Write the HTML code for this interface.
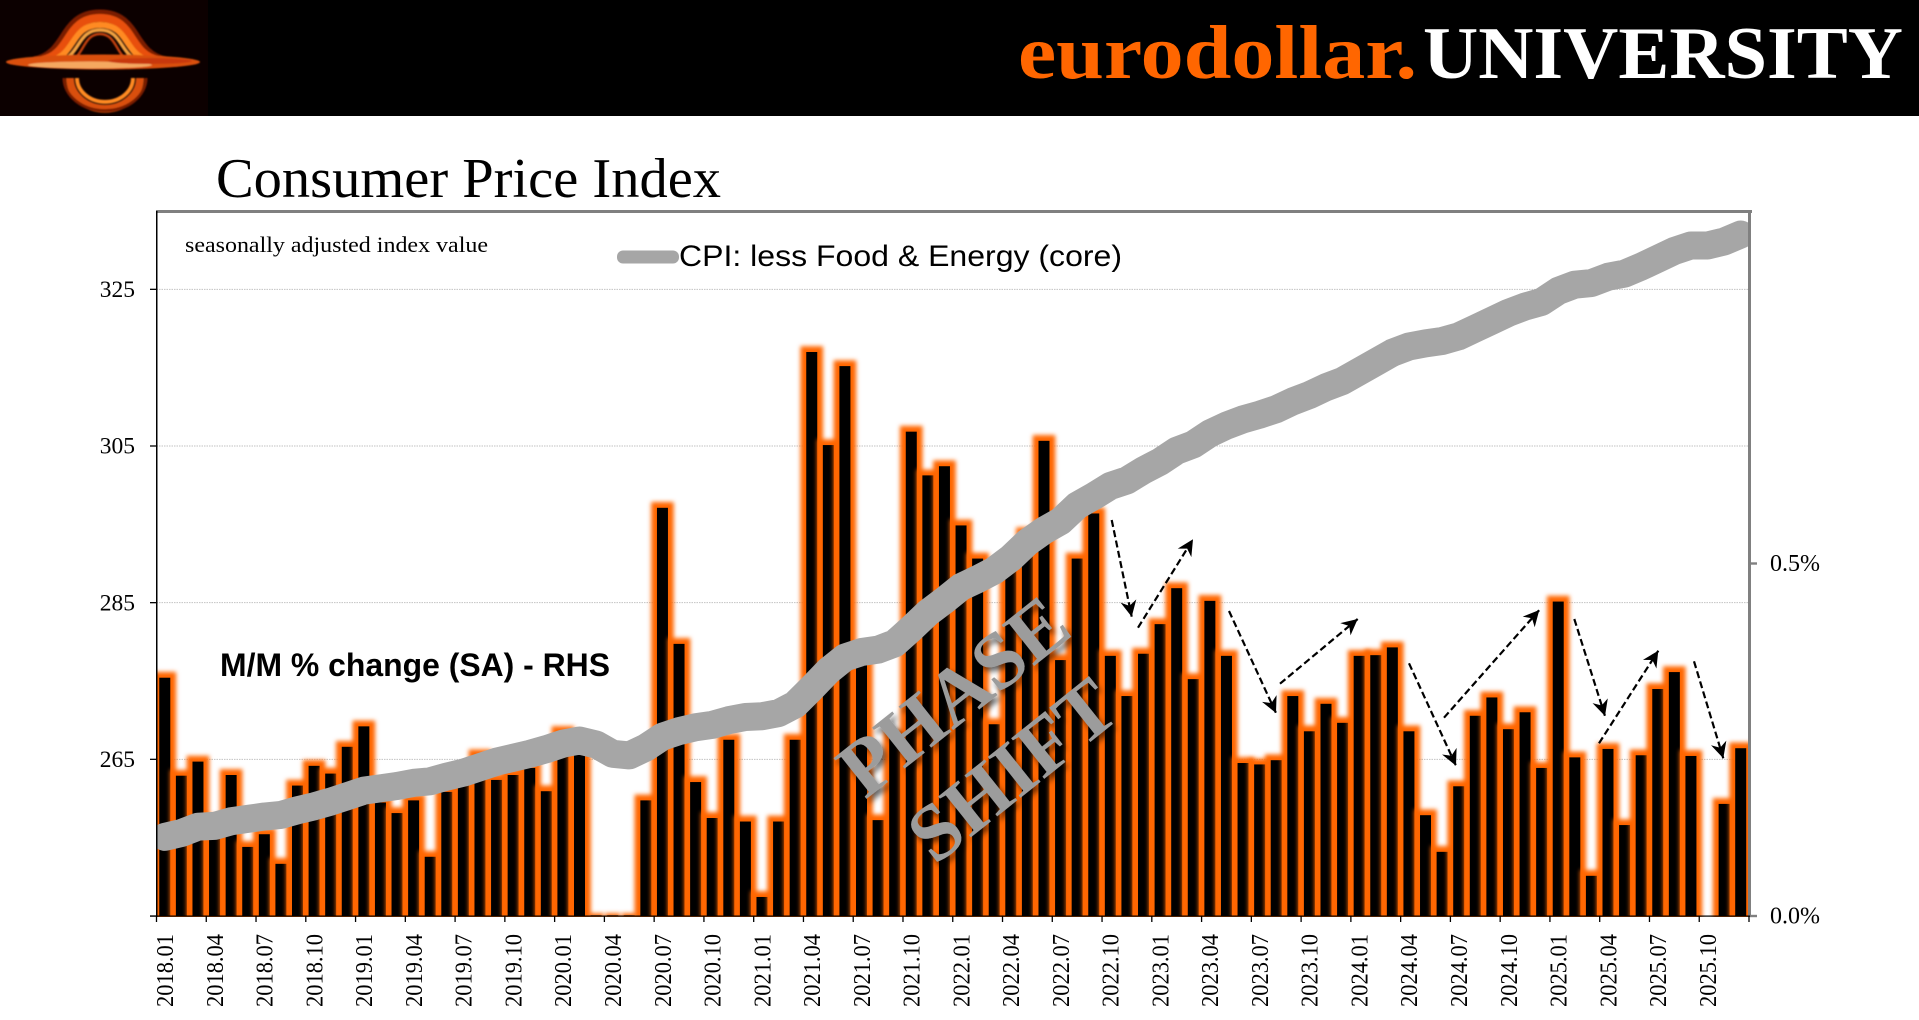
<!DOCTYPE html>
<html lang="en">
<head>
<meta charset="utf-8">
<title>Consumer Price Index</title>
<style>
html,body{margin:0;padding:0;background:#fff;width:1919px;height:1020px;overflow:hidden}
svg{display:block}
text{font-family:"Liberation Serif",serif}
.sans{font-family:"Liberation Sans",sans-serif}
</style>
</head>
<body>
<svg id="chart" xmlns="http://www.w3.org/2000/svg" width="1919" height="1020" viewBox="0 0 1919 1020">
  <defs>
    <filter id="glowBlur" filterUnits="userSpaceOnUse" x="130" y="190" width="1640" height="750">
      <feGaussianBlur stdDeviation="2"/>
    </filter>
    <filter id="logoBlur" x="-10%" y="-10%" width="120%" height="120%">
      <feGaussianBlur stdDeviation="0.9"/>
    </filter>
    <filter id="wordShadow" x="-10%" y="-20%" width="130%" height="150%">
      <feDropShadow dx="3" dy="4" stdDeviation="3" flood-color="#000" flood-opacity="0.6"/>
    </filter>
    <clipPath id="plotClip"><rect x="156.5" y="211" width="1592.5" height="706"/></clipPath>
    <marker id="stealth" markerUnits="userSpaceOnUse" markerWidth="20" markerHeight="20" viewBox="-1 -10 20 20" refX="16" refY="0" orient="auto">
      <path d="M0,-8 L16,0 L0,8 L5,0 Z" fill="#000"/>
    </marker>
  </defs>

  <rect x="0" y="0" width="1919" height="116" fill="#000"/>

  <g>
    <rect x="0" y="0" width="208" height="116" fill="#0c0000"/>
    <g filter="url(#logoBlur)" fill="none">
      <path d="M34 60 C68 54 60 13 100 13 C140 13 132 54 166 60" stroke="#7a1c04" stroke-width="7"/>
      <path d="M42 60 C72 54 65 18 100 18 C135 18 128 54 158 60" stroke="#e8500c" stroke-width="8"/>
      <path d="M52 60 C76 54 71 25 100 25 C129 25 124 54 148 60" stroke="#ff8a20" stroke-width="6"/>
      <path d="M62 60 C80 54 78 30 100 30 C122 30 120 54 138 60" stroke="#f0a040" stroke-width="3.5"/>
      <path d="M72 60 C84 54 84 34 100 34 C116 34 116 54 128 60" stroke="#c0400a" stroke-width="2.5"/>
      <ellipse cx="103" cy="62" rx="97" ry="7.5" fill="#d9500f" stroke="none"/>
      <ellipse cx="90" cy="65" rx="62" ry="3.5" fill="#f5a860" stroke="none"/>
      <ellipse cx="150" cy="61" rx="42" ry="3" fill="#c83810" stroke="none"/>
      <path d="M70 78 A33 29 0 0 0 140 78" stroke="#d9500f" stroke-width="8"/>
      <path d="M77 78 A27 23 0 0 0 133 78" stroke="#ff8a20" stroke-width="4"/>
      <path d="M64 78 A39 31 0 0 0 146 78" stroke="#7a1c04" stroke-width="3"/>
    </g>
  </g>

  <text x="1018" y="78" font-size="76" font-weight="bold" fill="#ff6600" textLength="399" lengthAdjust="spacingAndGlyphs">eurodollar.</text>
  <text x="1423" y="78" font-size="74" font-weight="bold" fill="#fff" textLength="480" lengthAdjust="spacingAndGlyphs">UNIVERSITY</text>

  <text x="216" y="197" font-size="56" fill="#000" textLength="505" lengthAdjust="spacingAndGlyphs">Consumer Price Index</text>

  <g id="grid"></g>
  <g id="bars" clip-path="url(#plotClip)"></g>
  <g clip-path="url(#plotClip)"><path id="cpiLine" fill="none" stroke="#a6a6a6" stroke-width="28" stroke-linejoin="round" stroke-linecap="round"/></g>

  <g>
    <rect x="156" y="210" width="1596" height="3" fill="#808080"/>
    <rect x="1748" y="210" width="3" height="707" fill="#808080"/>
    <rect x="156" y="211" width="1.5" height="706" fill="#000"/>
    <rect x="150" y="915.5" width="1600" height="1.2" fill="#000"/>
  </g>
  <g id="axes"></g>

  <text x="185" y="252" font-size="22" fill="#000" textLength="303" lengthAdjust="spacingAndGlyphs">seasonally adjusted index value</text>

  <g>
    <rect x="617" y="250.5" width="62" height="13" rx="6" fill="#a6a6a6"/>
    <text class="sans" x="679" y="266" font-size="30" fill="#000" textLength="443" lengthAdjust="spacingAndGlyphs">CPI: less Food &amp; Energy (core)</text>
  </g>

  <text class="sans" x="220" y="676" font-size="32" font-weight="bold" fill="#000" textLength="390" lengthAdjust="spacingAndGlyphs">M/M % change (SA) - RHS</text>

  <g filter="url(#wordShadow)">
    <text transform="translate(865 800) rotate(-38.4)" font-size="80" font-weight="bold" fill="#9c9c9c" textLength="268" lengthAdjust="spacingAndGlyphs">PHASE</text>
    <text transform="translate(935 866) rotate(-38.6)" font-size="80" font-weight="bold" fill="#9c9c9c" textLength="240" lengthAdjust="spacingAndGlyphs">SHIFT</text>
  </g>

  <g stroke="#000" stroke-width="2.2" stroke-dasharray="7 3.5" fill="none">
    <line x1="1111.7" y1="520" x2="1131.7" y2="616.7" marker-end="url(#stealth)"/>
    <line x1="1138" y1="627.7" x2="1193" y2="539.3" marker-end="url(#stealth)"/>
    <line x1="1229" y1="611" x2="1276" y2="713" marker-end="url(#stealth)"/>
    <line x1="1280" y1="683.7" x2="1357.7" y2="619" marker-end="url(#stealth)"/>
    <line x1="1409" y1="663.3" x2="1456" y2="765.7" marker-end="url(#stealth)"/>
    <line x1="1444" y1="717.7" x2="1539.3" y2="610" marker-end="url(#stealth)"/>
    <line x1="1574.3" y1="619" x2="1605" y2="716" marker-end="url(#stealth)"/>
    <line x1="1599" y1="743.3" x2="1658.3" y2="650.7" marker-end="url(#stealth)"/>
    <line x1="1694" y1="661.3" x2="1723.3" y2="758.3" marker-end="url(#stealth)"/>
  </g>
</svg>

<script>
const categories = [
  "2018.01","2018.02","2018.03","2018.04","2018.05","2018.06","2018.07","2018.08","2018.09","2018.10","2018.11","2018.12",
  "2019.01","2019.02","2019.03","2019.04","2019.05","2019.06","2019.07","2019.08","2019.09","2019.10","2019.11","2019.12",
  "2020.01","2020.02","2020.03","2020.04","2020.05","2020.06","2020.07","2020.08","2020.09","2020.10","2020.11","2020.12",
  "2021.01","2021.02","2021.03","2021.04","2021.05","2021.06","2021.07","2021.08","2021.09","2021.10","2021.11","2021.12",
  "2022.01","2022.02","2022.03","2022.04","2022.05","2022.06","2022.07","2022.08","2022.09","2022.10","2022.11","2022.12",
  "2023.01","2023.02","2023.03","2023.04","2023.05","2023.06","2023.07","2023.08","2023.09","2023.10","2023.11","2023.12",
  "2024.01","2024.02","2024.03","2024.04","2024.05","2024.06","2024.07","2024.08","2024.09","2024.10","2024.11","2024.12",
  "2025.01","2025.02","2025.03","2025.04","2025.05","2025.06","2025.07","2025.08","2025.09","2025.10","2025.11","2025.12"
];
const momChange = [
  0.338,0.199,0.219,0.136,0.200,0.098,0.116,0.074,0.185,0.213,0.202,0.240,
  0.269,0.161,0.146,0.164,0.084,0.176,0.190,0.228,0.193,0.200,0.210,0.177,
  0.261,0.240,0.001,0.001,0.001,0.164,0.579,0.386,0.190,0.139,0.250,0.134,
  0.027,0.134,0.250,0.800,0.668,0.780,0.377,0.136,0.255,0.687,0.625,0.638,
  0.554,0.507,0.272,0.498,0.543,0.674,0.363,0.507,0.571,0.369,0.312,0.372,
  0.414,0.465,0.336,0.447,0.369,0.217,0.215,0.221,0.312,0.262,0.301,0.274,
  0.369,0.370,0.381,0.262,0.143,0.091,0.184,0.284,0.310,0.265,0.289,0.210,
  0.446,0.225,0.057,0.237,0.129,0.228,0.322,0.346,0.227,0,0.159,0.238
];
const cpiCore = [
  255.1,255.6,256.4,256.5,257.1,257.4,257.7,257.9,258.5,259.0,259.6,260.3,
  261.0,261.3,261.6,262.0,262.2,262.8,263.3,264.0,264.7,265.2,265.7,266.3,
  267.0,267.4,266.9,265.7,265.5,266.5,267.9,268.6,269.1,269.4,270.0,270.4,
  270.5,270.9,272.0,274.1,276.3,278.0,278.7,279.0,279.8,281.7,283.7,285.3,
  287.0,288.0,289.1,290.7,292.7,294.2,295.4,297.4,298.6,299.9,300.6,301.9,
  303.0,304.4,305.2,306.6,307.6,308.4,309.0,309.7,310.7,311.5,312.5,313.3,
  314.5,315.7,316.9,317.7,318.1,318.4,319.0,320.0,321.0,322.0,322.8,323.4,
  324.8,325.6,325.8,326.6,327.0,327.9,328.9,329.9,330.6,330.6,331.1,332.0
];
const leftTicks = [245,265,285,305,325];
const leftTickLabels = ["","265","285","305","325"];
const gridValues = [265,285,305,325];
const rightTicks = [0,0.5];
const rightTickLabels = ["0.0%","0.5%"];
const xLabelEvery = 3;

const NS = "http://www.w3.org/2000/svg";
const plotLeft = 156.5, plotRight = 1749, plotBottom = 916, plotTop = 211;
const band = (plotRight - plotLeft) / categories.length;
const barWidth = 11;
const xEdge = function (i) { return plotLeft + i * band; };
const xCenter = function (i) { return plotLeft + (i + 0.5) * band; };
const yLeft = function (v) { return plotBottom - (v - 245) * (plotBottom - plotTop) / 90; };
const yRight = function (v) { return plotBottom - v * (plotBottom - plotTop) / 1.0; };

const make = function (tag, attrs, parent) {
  const node = document.createElementNS(NS, tag);
  for (const k in attrs) { node.setAttribute(k, attrs[k]); }
  parent.appendChild(node);
  return node;
};

const gridGroup = document.getElementById("grid");
gridValues.forEach(function (v) {
  const el = make("line", {x1: plotLeft, x2: plotRight, y1: yLeft(v), y2: yLeft(v), stroke: "#c2c2c2", "stroke-width": 1, "stroke-dasharray": "1.5 1"}, gridGroup);
  
  
});

const barGroup = document.getElementById("bars");
momChange.forEach(function (v, i) {
  if (v <= 0) { return; }
  const cx = xCenter(i);
  const top = yRight(v);
  const spread = v < 0.01 ? 2 : 5.8;
  const glow = make("rect", {x: cx - barWidth / 2 - spread, y: top - spread, width: barWidth + spread * 2, height: plotBottom - top + 12, fill: "#ff6600", filter: "url(#glowBlur)"}, barGroup);
  
  
  const bar = make("rect", {x: cx - barWidth / 2, y: top, width: barWidth, height: plotBottom - top, fill: "#000"}, barGroup);
  
  
});

const linePath = cpiCore.map(function (v, i) {
  return (i === 0 ? "M" : "L") + xCenter(i).toFixed(2) + " " + yLeft(v).toFixed(2);
}).join(" ");
document.getElementById("cpiLine").setAttribute("d", linePath);

const axes = document.getElementById("axes");
leftTicks.forEach(function (v, i) {
  const y = yLeft(v);
  const tick = make("line", {x1: 150, x2: 157, y1: y, y2: y, stroke: "#000", "stroke-width": 1.3}, axes);
  
  
  if (leftTickLabels[i]) {
    const t = make("text", {x: 135, y: y + 7.7, "text-anchor": "end", "font-size": 23.5, fill: "#000"}, axes);
    t.textContent = leftTickLabels[i];
    
    
  }
});
rightTicks.forEach(function (v, i) {
  const y = yRight(v);
  const tick = make("line", {x1: 1750, x2: 1757, y1: y, y2: y, stroke: "#808080", "stroke-width": 2.4}, axes);
  
  
  const t = make("text", {x: 1770, y: y + 7.5, "font-size": 24, fill: "#000"}, axes);
  t.textContent = rightTickLabels[i];
  
  
});
categories.forEach(function (c, i) {
  if (i % xLabelEvery !== 0) { return; }
  const tx = xEdge(i);
  const tick = make("line", {x1: tx, x2: tx, y1: 916, y2: 922, stroke: "#000", "stroke-width": 1.3}, axes);
  
  
  const lx = xCenter(i) + 8.3;
  const t = make("text", {x: lx, y: 1007, transform: "rotate(-90 " + lx + " 1007)", "font-size": 24.5, fill: "#000", textLength: 73, lengthAdjust: "spacingAndGlyphs"}, axes);
  t.textContent = c;
  
  
});
const endTick = make("line", {x1: plotRight, x2: plotRight, y1: 916, y2: 922, stroke: "#000", "stroke-width": 1.3}, axes);


</script>
</body>
</html>
